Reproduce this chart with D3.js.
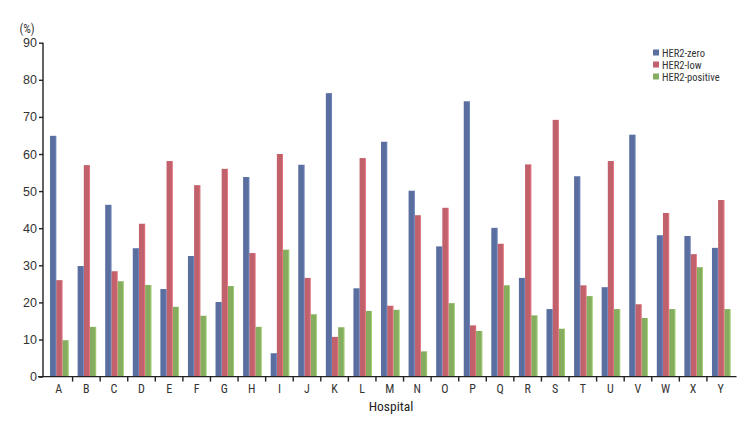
<!DOCTYPE html>
<html>
<head>
<meta charset="utf-8">
<script src="https://cdn.jsdelivr.net/npm/d3@7"></script>
<style>
  body { margin: 0; background: #fff; }
  svg { display: block; font-family: "Liberation Sans Narrow", "Roboto Condensed", "Arial Narrow", sans-serif; font-stretch: condensed; }
  .axis text { fill: #333; font-size: 12.5px; }
  .axis path, .axis line { stroke: #222; stroke-width: 1.4; }
</style>
</head>
<body>
<svg id="chart"></svg>
<script>
// ---- data ----
const hospitals = ["A","B","C","D","E","F","G","H","I","J","K","L","M","N","O","P","Q","R","S","T","U","V","W","X","Y"];
const her2Zero     = [64.9,29.8,46.3,34.6,23.6,32.5,20.1,53.8, 6.3,57.1,76.4,23.8,63.3,50.1,35.1,74.2,40.1,26.6,18.2,54.0,24.1,65.2,38.1,37.9,34.7];
const her2Low      = [26.0,57.0,28.4,41.2,58.1,51.6,56.0,33.3,60.0,26.6,10.7,58.9,19.1,43.5,45.5,13.8,35.8,57.2,69.2,24.6,58.1,19.5,44.1,33.0,47.6];
const her2Positive = [ 9.8,13.4,25.7,24.7,18.8,16.4,24.4,13.4,34.2,16.8,13.3,17.7,18.0, 6.8,19.8,12.3,24.6,16.5,12.9,21.7,18.2,15.8,18.2,29.5,18.2];
const seriesNames = ["HER2-zero","HER2-low","HER2-positive"];
const yTicks = [0,10,20,30,40,50,60,70,80,90];

const colors = ["#5a6f9f", "#c0616b", "#86ad5f"];
const seriesValues = [her2Zero, her2Low, her2Positive];

// ---- layout ----
const width = 755, height = 428;
const svg = d3.select("#chart").attr("width", width).attr("height", height);

const x0 = d3.scaleBand().domain(hospitals).range([45, 734.5]).paddingInner(0).paddingOuter(0);
const groupW = 18.5;
const x1 = d3.scaleBand().domain(seriesNames).range([0, groupW]);
const y = d3.scaleLinear().domain([0, 90]).range([376.6, 42.7]);

// bars
const rows = hospitals.map((h, i) => ({ h, vals: seriesValues.map((s, k) => ({ name: seriesNames[k], v: s[i], k })) }));

const groups = svg.append("g")
  .selectAll("g")
  .data(rows)
  .join("g")
  .attr("transform", (d) => `translate(${x0(d.h) + (x0.bandwidth() - groupW) / 2 + 0.5},0)`);

groups.selectAll("rect.bar")
  .data((d) => d.vals)
  .join("rect")
  .attr("class", "bar")
  .attr("x", (d) => x1(d.name))
  .attr("y", (d) => y(d.v))
  .attr("width", x1.bandwidth())
  .attr("height", (d) => y(0) - y(d.v))
  .attr("fill", (d) => colors[d.k]);

// light edge on the right of each bar
groups.selectAll("rect.edge")
  .data((d) => d.vals)
  .join("rect")
  .attr("class", "edge")
  .attr("x", (d) => x1(d.name) + x1.bandwidth() - 0.8)
  .attr("y", (d) => y(d.v))
  .attr("width", 0.8)
  .attr("height", (d) => y(0) - y(d.v))
  .attr("fill", (d) => d3.color(colors[d.k]).brighter(0.7))
  .attr("opacity", 0.8);

// y axis
svg.append("g")
  .attr("class", "axis")
  .attr("transform", "translate(43,0)")
  .call(d3.axisLeft(y).tickValues(yTicks).tickSize(4).tickSizeOuter(0))
  .call((g) => g.select(".domain").attr("d", `M0,${y(90)}V${y(0)}`))
  .call((g) => g.selectAll(".tick text").attr("x", -6));

// x axis (ticks between categories)
const xAxisG = svg.append("g")
  .attr("class", "axis")
  .attr("transform", `translate(0,${y(0)})`);
xAxisG.append("path").attr("d", `M38,0H736.5`).attr("fill", "none");
xAxisG.selectAll("line.sep")
  .data(hospitals.slice(1))
  .join("line")
  .attr("class", "sep")
  .attr("x1", (d) => x0(d)).attr("x2", (d) => x0(d))
  .attr("y1", 0).attr("y2", 5);
xAxisG.selectAll("text")
  .data(hospitals)
  .join("text")
  .attr("x", (d) => x0(d) + x0.bandwidth() / 2)
  .attr("y", 16.5)
  .attr("text-anchor", "middle")
  .style("font-size", "12px")
  .text((d) => d);

// labels
svg.append("text")
  .attr("x", 391).attr("y", 411)
  .attr("text-anchor", "middle")
  .style("font-size", "13.5px").style("fill", "#222")
  .text("Hospital");

svg.append("text")
  .attr("x", 27).attr("y", 33)
  .attr("text-anchor", "middle")
  .style("font-size", "12px").style("fill", "#333")
  .text("(%)");

// legend
const legend = svg.append("g").attr("transform", "translate(653,53)");
const li = legend.selectAll("g")
  .data(seriesNames)
  .join("g")
  .attr("transform", (d, i) => `translate(0,${i * 12})`);
li.append("rect").attr("x", 0).attr("y", -3.5).attr("width", 6).attr("height", 6).attr("fill", (d, i) => colors[i]);
li.append("text")
  .attr("x", 9).attr("y", 3.5)
  .style("font-size", "10.5px").style("fill", "#333")
  .text((d) => d);
</script>
</body>
</html>
